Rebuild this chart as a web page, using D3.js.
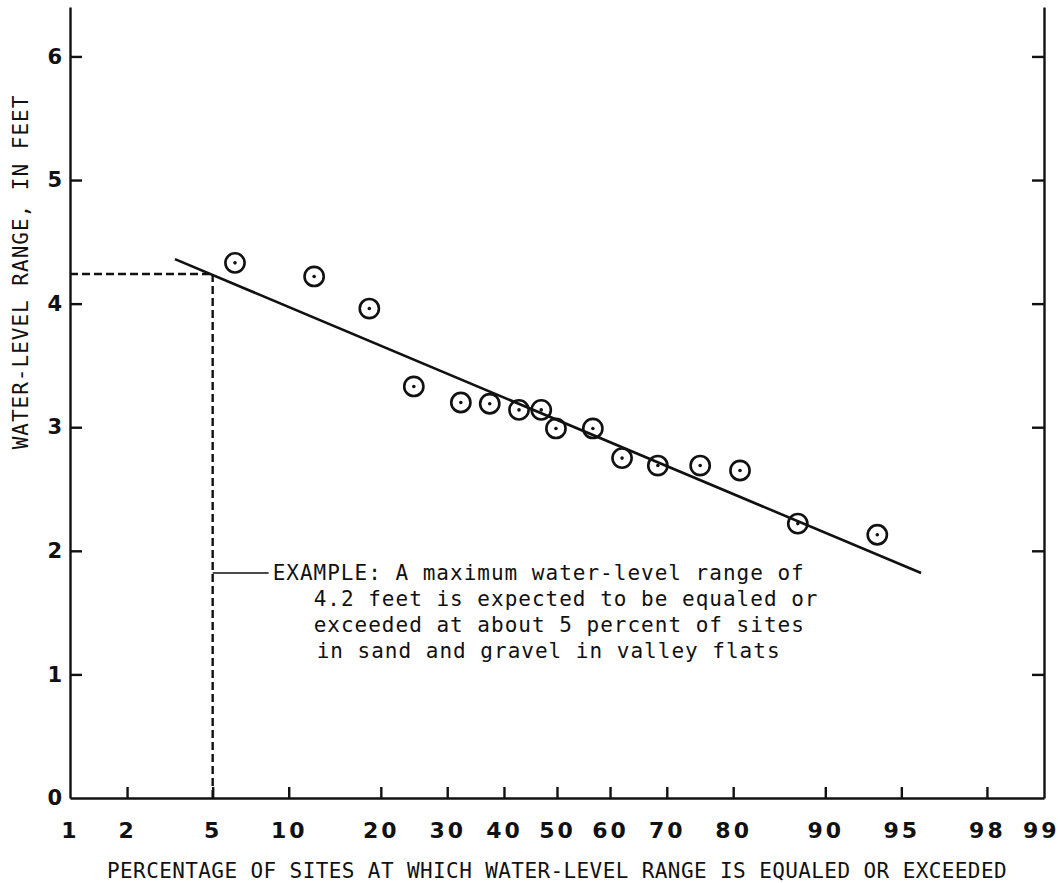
<!DOCTYPE html>
<html>
<head>
<meta charset="utf-8">
<script src="https://cdn.jsdelivr.net/npm/d3@7"></script>
<style>
  body { margin: 0; background: #fff; }
  svg { display: block; background: #fff; }
  .domain { stroke: #111; stroke-width: 2.4; }
  .tick line { stroke: #111; stroke-width: 2.4; }
</style>
</head>
<body>
<div id="chart"></div>
<script>
// percentage of sites (probability scale) and water-level range, ft
const pctSites = [6.2, 12.3, 18.5, 24.7, 32.3, 37.4, 42.8, 47.0, 49.8, 56.8, 62.2, 68.5, 75.3, 80.9, 87.5, 93.7];
const wlRange = [4.33, 4.22, 3.96, 3.33, 3.2, 3.19, 3.14, 3.14, 2.99, 2.99, 2.75, 2.69, 2.69, 2.65, 2.22, 2.13];

// fitted line end points
const fitPct = [3.4, 95.9];
const fitRange = [4.36, 1.82];

// worked example
const examplePct = 5;
const exampleRange = 4.24;
const exampleText = [
  "EXAMPLE: A maximum water-level range of",
  "4.2 feet is expected to be equaled or",
  "exceeded at about 5 percent of sites",
  "in sand and gravel in valley flats"
];

const xTickPct = [1, 2, 5, 10, 20, 30, 40, 50, 60, 70, 80, 90, 95, 98, 99];
const yTicks = [0, 1, 2, 3, 4, 5, 6];

const W = 1060, H = 883;
const MARGIN = {LEFT: 70, RIGHT: 16, TOP: 7, BOTTOM: 85};

// inverse normal cdf (Acklam) for the probability axis
function probit(p) {
  const a = [-39.69683028665376, 220.9460984245205, -275.9285104469687, 138.3577518672690, -30.66479806614716, 2.506628277459239];
  const b = [-54.47609879822406, 161.5858368580409, -155.6989798598866, 66.80131188771972, -13.28068155288572];
  const c = [-0.007784894002430293, -0.3223964580411365, -2.400758277161838, -2.549732539343734, 4.374664141464968, 2.938163982698783];
  const d = [0.007784695709041462, 0.3224671290700398, 2.445134137142996, 3.754408661907416];
  const plow = 0.02425;
  let q, r;
  if (p < plow) {
    q = Math.sqrt(-2 * Math.log(p));
    return (((((c[0]*q+c[1])*q+c[2])*q+c[3])*q+c[4])*q+c[5]) / ((((d[0]*q+d[1])*q+d[2])*q+d[3])*q+1);
  }
  if (p <= 1 - plow) {
    q = p - 0.5; r = q * q;
    return (((((a[0]*r+a[1])*r+a[2])*r+a[3])*r+a[4])*r+a[5])*q / (((((b[0]*r+b[1])*r+b[2])*r+b[3])*r+b[4])*r+1);
  }
  q = Math.sqrt(-2 * Math.log(1 - p));
  return -(((((c[0]*q+c[1])*q+c[2])*q+c[3])*q+c[4])*q+c[5]) / ((((d[0]*q+d[1])*q+d[2])*q+d[3])*q+1);
}

const svg = d3.select("#chart").append("svg")
  .attr("width", W)
  .attr("height", H);

const x = d3.scaleLinear()
  .domain([probit(0.01), probit(0.99)])
  .range([MARGIN.LEFT, W - MARGIN.RIGHT]);
const px = p => x(probit(p / 100));

const y = d3.scaleLinear()
  .domain([0, 6.4])
  .range([H - MARGIN.BOTTOM, MARGIN.TOP]);

const tickFont = "'DejaVu Sans', sans-serif";
const typeFont = "'DejaVu Sans Mono', monospace";

// bottom axis
const xAxis = svg.append("g")
  .attr("transform", "translate(0," + y(0) + ")")
  .call(d3.axisBottom(x)
    .tickValues(xTickPct.map(p => probit(p / 100)))
    .tickFormat((d, i) => xTickPct[i])
    .tickSizeInner(-11)
    .tickSizeOuter(0)
    .tickPadding(24));
xAxis.selectAll(".tick text")
  .attr("fill", "#111")
  .style("font-family", tickFont)
  .style("font-weight", "bold")
  .style("font-size", "22px")
  .style("letter-spacing", "3px");
xAxis.selectAll(".tick").filter((d, i) => i === xTickPct.length - 1)
  .select("text").attr("text-anchor", "end").attr("x", 15);
xAxis.selectAll(".tick").filter((d, i) => i === 0 || i === xTickPct.length - 1)
  .select("line").remove();

// left axis
const yAxis = svg.append("g")
  .attr("transform", "translate(" + MARGIN.LEFT + ",0)")
  .call(d3.axisLeft(y)
    .tickValues(yTicks)
    .tickFormat(d3.format("d"))
    .tickSizeInner(-12)
    .tickSizeOuter(0)
    .tickPadding(8));
yAxis.selectAll(".tick text")
  .attr("fill", "#111")
  .style("font-family", tickFont)
  .style("font-weight", "bold")
  .style("font-size", "21px");
yAxis.selectAll(".tick").filter(d => d === 0).select("line").remove();

// right axis, ticks only
svg.append("g")
  .attr("transform", "translate(" + (W - MARGIN.RIGHT) + ",0)")
  .call(d3.axisRight(y)
    .tickValues(yTicks.slice(1))
    .tickSizeInner(-12)
    .tickSizeOuter(0)
    .tickFormat(""));

// axis titles
svg.append("text")
  .attr("x", x(0))
  .attr("y", 878)
  .attr("text-anchor", "middle")
  .attr("fill", "#111")
  .style("font-family", typeFont)
  .style("font-size", "21px")
  .style("letter-spacing", "0.4px")
  .text("PERCENTAGE OF SITES AT WHICH WATER-LEVEL RANGE IS EQUALED OR EXCEEDED");

svg.append("text")
  .attr("transform", "translate(28,272) rotate(-90)")
  .attr("text-anchor", "middle")
  .attr("fill", "#111")
  .style("font-family", typeFont)
  .style("font-size", "21px")
  .style("letter-spacing", "1px")
  .text("WATER-LEVEL RANGE, IN FEET");

// example guide lines
const dashed = svg.append("g")
  .attr("fill", "none")
  .attr("stroke", "#111")
  .attr("stroke-width", 2.4)
  .attr("stroke-dasharray", "8,4");
dashed.append("line")
  .attr("x1", x.range()[0]).attr("x2", px(examplePct))
  .attr("y1", y(exampleRange)).attr("y2", y(exampleRange));
dashed.append("line")
  .attr("x1", px(examplePct)).attr("x2", px(examplePct))
  .attr("y1", y(exampleRange)).attr("y2", y(0));

// fitted line
svg.append("line")
  .attr("x1", px(fitPct[0])).attr("y1", y(fitRange[0]))
  .attr("x2", px(fitPct[1])).attr("y2", y(fitRange[1]))
  .attr("stroke", "#111")
  .attr("stroke-width", 2.6);

// data points: circle with centre dot
const pts = svg.append("g")
  .selectAll("g")
  .data(pctSites.map((p, i) => ({p: p, v: wlRange[i]})))
  .join("g")
  .attr("transform", d => "translate(" + px(d.p) + "," + y(d.v) + ")");
pts.append("circle")
  .attr("r", 9.6)
  .attr("fill", "none")
  .attr("stroke", "#111")
  .attr("stroke-width", 2.6);
pts.append("circle")
  .attr("r", 1.8)
  .attr("fill", "#111");

// annotation
const noteY = 573;
svg.append("line")
  .attr("x1", px(examplePct)).attr("x2", px(examplePct) + 56)
  .attr("y1", noteY).attr("y2", noteY)
  .attr("stroke", "#111")
  .attr("stroke-width", 1.6);

svg.append("g")
  .selectAll("text")
  .data(exampleText)
  .join("text")
  .attr("x", (d, i) => i === 0 ? px(examplePct) + 60 : px(examplePct) + 101 + (i === 3 ? 3 : 0))
  .attr("y", (d, i) => noteY + 7 + i * 26)
  .attr("fill", "#111")
  .style("font-family", typeFont)
  .style("font-size", "21px")
  .style("letter-spacing", "1px")
  .text(d => d);
</script>
</body>
</html>
